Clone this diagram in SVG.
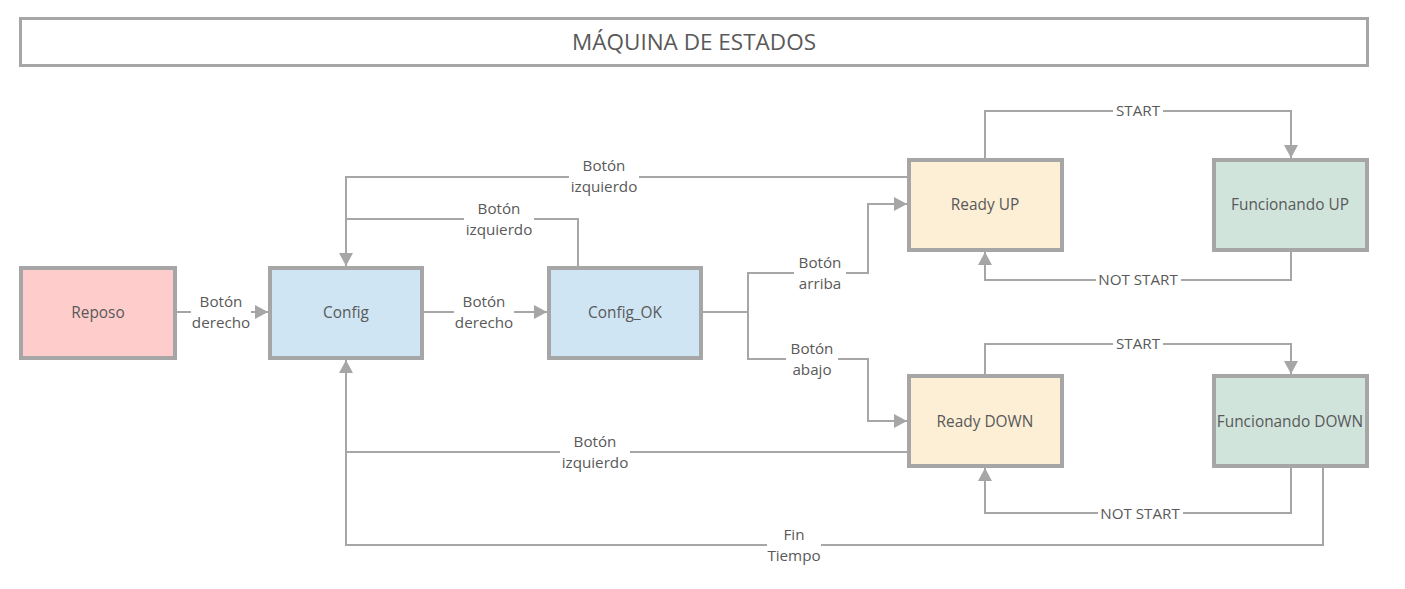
<svg xmlns="http://www.w3.org/2000/svg" width="1405" height="589" viewBox="0 0 1405 589">
  <style>
    .box { stroke: #a6a6a6; stroke-width: 4; }
    .t { font-family: "Open Sans", "Liberation Sans", sans-serif; font-size: 15.4px; fill: #595959; text-anchor: middle; dominant-baseline: central; }
    .lbl { font-family: "Open Sans", "Liberation Sans", sans-serif; font-size: 15.2px; fill: #595959; text-anchor: middle; dominant-baseline: central; }
    .wire { fill: none; stroke: #a6a6a6; stroke-width: 2; }
    .bg { fill: #ffffff; }
  </style>
  <defs>
    <marker id="arrow" markerUnits="userSpaceOnUse" markerWidth="14" markerHeight="14" refX="13" refY="7" orient="auto">
      <path d="M0,0 L13,7 L0,14 z" fill="#a6a6a6"/>
    </marker>
  </defs>
  <rect width="1405" height="589" fill="#ffffff"/>

  <!-- title bar -->
  <g id="title">
    <rect x="20.5" y="18.5" width="1347" height="47" fill="#ffffff" stroke="#a6a6a6" stroke-width="3"/>
    <text x="694" y="41" class="t" style="font-size:22.5px">MÁQUINA DE ESTADOS</text>
  </g>

  <!-- transitions -->
  <g id="connectors">
    <path class="wire" d="M177,312 L268,312" marker-end="url(#arrow)"/>
    <path class="wire" d="M424,312 L547,312" marker-end="url(#arrow)"/>
    <path class="wire" d="M703,312 L748,312 L748,273 L868,273 L868,204 L907,204" marker-end="url(#arrow)"/>
    <path class="wire" d="M748,312 L748,359 L868,359 L868,421 L907,421" marker-end="url(#arrow)"/>
    <path class="wire" d="M907,177 L346,177 L346,266" marker-end="url(#arrow)"/>
    <path class="wire" d="M578,266 L578,219 L346,219"/>
    <path class="wire" d="M907,452 L346,452 L346,360" marker-end="url(#arrow)"/>
    <path class="wire" d="M1323,468 L1323,545 L346,545 L346,452"/>
    <path class="wire" d="M985,158 L985,111 L1291,111 L1291,158" marker-end="url(#arrow)"/>
    <path class="wire" d="M1291,252 L1291,280 L985,280 L985,252" marker-end="url(#arrow)"/>
    <path class="wire" d="M985,374 L985,344 L1291,344 L1291,374" marker-end="url(#arrow)"/>
    <path class="wire" d="M1291,468 L1291,513 L985,513 L985,468" marker-end="url(#arrow)"/>

    <!-- labels -->
    <rect class="bg" x="191" y="294" width="60" height="40"/>
    <text class="lbl" x="221" y="301">Botón</text>
    <text class="lbl" x="221" y="322">derecho</text>

    <rect class="bg" x="454" y="294" width="60" height="40"/>
    <text class="lbl" x="484" y="301">Botón</text>
    <text class="lbl" x="484" y="322">derecho</text>

    <rect class="bg" x="794" y="255" width="52" height="40"/>
    <text class="lbl" x="820" y="262">Botón</text>
    <text class="lbl" x="820" y="283">arriba</text>

    <rect class="bg" x="786" y="340" width="52" height="40"/>
    <text class="lbl" x="812" y="348">Botón</text>
    <text class="lbl" x="812" y="369">abajo</text>

    <rect class="bg" x="569" y="156" width="70" height="40"/>
    <text class="lbl" x="604" y="165">Botón</text>
    <text class="lbl" x="604" y="186">izquierdo</text>

    <rect class="bg" x="464" y="199" width="70" height="40"/>
    <text class="lbl" x="499" y="208">Botón</text>
    <text class="lbl" x="499" y="229">izquierdo</text>

    <rect class="bg" x="560" y="432" width="70" height="40"/>
    <text class="lbl" x="595" y="441">Botón</text>
    <text class="lbl" x="595" y="462">izquierdo</text>

    <rect class="bg" x="767" y="525" width="54" height="40"/>
    <text class="lbl" x="794" y="534">Fin</text>
    <text class="lbl" x="794" y="555">Tiempo</text>

    <rect class="bg" x="1113" y="102" width="50" height="18"/>
    <text class="lbl" x="1138" y="110">START</text>
    <rect class="bg" x="1096" y="271" width="85" height="18"/>
    <text class="lbl" x="1138" y="279">NOT START</text>
    <rect class="bg" x="1113" y="335" width="50" height="18"/>
    <text class="lbl" x="1138" y="343">START</text>
    <rect class="bg" x="1098" y="504" width="85" height="18"/>
    <text class="lbl" x="1140" y="513">NOT START</text>
  </g>

  <!-- states -->
  <g id="reposo">
    <rect class="box" x="21" y="268" width="154" height="90" fill="#ffcccc"/>
    <text class="t" x="98" y="312">Reposo</text>
  </g>
  <g id="config">
    <rect class="box" x="270" y="268" width="152" height="90" fill="#cfe5f3"/>
    <text class="t" x="346" y="312">Config</text>
  </g>
  <g id="config-ok">
    <rect class="box" x="549" y="268" width="152" height="90" fill="#cfe5f3"/>
    <text class="t" x="625" y="312">Config_OK</text>
  </g>
  <g id="ready-up">
    <rect class="box" x="909" y="160" width="153" height="90" fill="#fcefd5"/>
    <text class="t" x="985" y="204">Ready UP</text>
  </g>
  <g id="funcionando-up">
    <rect class="box" x="1214" y="160" width="153" height="90" fill="#d0e4dc"/>
    <text class="t" x="1290" y="204">Funcionando UP</text>
  </g>
  <g id="ready-down">
    <rect class="box" x="909" y="376" width="153" height="90" fill="#fcefd5"/>
    <text class="t" x="985" y="421">Ready DOWN</text>
  </g>
  <g id="funcionando-down">
    <rect class="box" x="1214" y="376" width="153" height="90" fill="#d0e4dc"/>
    <text class="t" x="1290" y="421">Funcionando DOWN</text>
  </g>
</svg>
